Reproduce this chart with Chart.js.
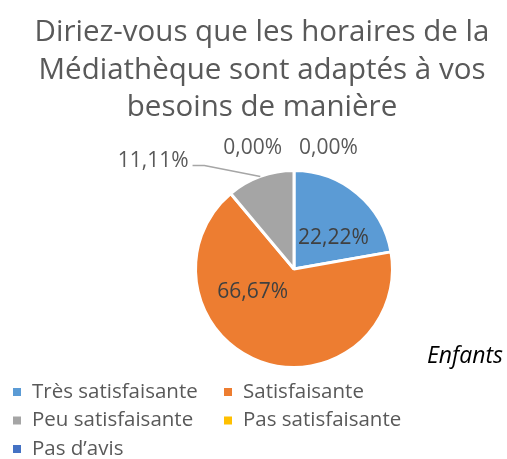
<!DOCTYPE html>
<html>
<head>
<meta charset="utf-8">
<script src="https://cdn.jsdelivr.net/npm/chart.js@4"></script>
<style>
  html, body { margin: 0; padding: 0; background: #fff; }
  #wrap { width: 507px; height: 459px; }
</style>
</head>
<body>
<div id="wrap"><canvas id="myChart" width="507" height="459"></canvas></div>
<script>
// Data
const categories = ["Très satisfaisante", "Satisfaisante", "Peu satisfaisante", "Pas satisfaisante", "Pas d’avis"];
const values = [22.22, 66.67, 11.11, 0, 0];
const colors = ["#5B9BD5", "#ED7D31", "#A5A5A5", "#FFC000", "#4472C4"];
const titleLines = ["Diriez-vous que les horaires de la", "Médiathèque sont adaptés à vos", "besoins de manière"];
const subLabel = "Enfants";

const FONT = "'Open Sans', sans-serif";
const TEXT = "#595959";

function fmt(v) {
  return v.toFixed(2).replace(".", ",") + "%";
}

// Title, value labels, legend and "Enfants" drawn on canvas
const decorPlugin = {
  id: "decor",
  afterDraw(chart) {
    const c = chart.ctx;
    const meta = chart.getDatasetMeta(0);
    c.save();

    // title
    c.fillStyle = TEXT;
    c.font = "29.5px " + FONT;
    c.textAlign = "center";
    c.textBaseline = "middle";
    titleLines.forEach((t, i) => c.fillText(t, 262, 33 + i * 37.5));

    // value labels
    const arc0 = meta.data[0];
    const cx = arc0.x, cy = arc0.y, r = arc0.outerRadius;
    c.font = "21px " + FONT;
    c.textBaseline = "middle";
    meta.data.forEach((arc, i) => {
      const mid = (arc.startAngle + arc.endAngle) / 2;
      const txt = fmt(values[i]);
      if (i === 0) {
        c.fillStyle = "#404040";
        c.textAlign = "center";
        c.fillText(txt, cx + r * 0.40, cy - r * 0.31);
      } else if (i === 1) {
        c.fillStyle = "#404040";
        c.textAlign = "center";
        c.fillText(txt, cx - r * 0.42, cy + r * 0.235);
      } else if (i === 2) {
        // leader line from slice edge
        const ex = cx + Math.cos(mid) * r;
        const ey = cy + Math.sin(mid) * r;
        c.strokeStyle = "#A6A6A6";
        c.lineWidth = 1.5;
        c.beginPath();
        c.moveTo(ex, ey);
        c.lineTo(cx - r * 0.91, cy - r * 1.05);
        c.lineTo(cx - r * 1.03, cy - r * 1.05);
        c.stroke();
        c.fillStyle = TEXT;
        c.textAlign = "right";
        c.fillText(txt, cx - r * 1.07, cy - r * 1.10);
      } else {
        c.fillStyle = TEXT;
        c.textAlign = "center";
        const dx = i === 3 ? -r * 0.42 : r * 0.35;
        c.fillText(txt, cx + dx, cy - r * 1.225);
      }
    });

    // "Enfants"
    c.fillStyle = "#000";
    c.font = "italic 23px " + FONT;
    c.textAlign = "right";
    c.fillText(subLabel, 503, 356);

    // legend
    c.font = "20.5px " + FONT;
    c.textAlign = "left";
    const cols = [17, 228];
    categories.forEach((name, i) => {
      const x = cols[i % 2];
      const y = 392 + Math.floor(i / 2) * 28.5;
      c.fillStyle = colors[i];
      c.fillRect(x - 4, y - 4, 8, 8);
      c.fillStyle = TEXT;
      c.fillText(name, x + 15, y);
    });

    c.restore();
  }
};

const ctx = document.getElementById("myChart");
new Chart(ctx, {
  type: "pie",
  data: {
    labels: categories,
    datasets: [{
      data: values,
      backgroundColor: colors,
      borderColor: "#fff",
      borderWidth: 3,
    }],
  },
  options: {
    responsive: false,
    animation: false,
    layout: { padding: { top: 169, bottom: 90, left: 100, right: 19 } },
    plugins: {
      legend: { display: false },
      title: { display: false },
      tooltip: { enabled: false },
    },
  },
  plugins: [decorPlugin],
});
</script>
</body>
</html>
